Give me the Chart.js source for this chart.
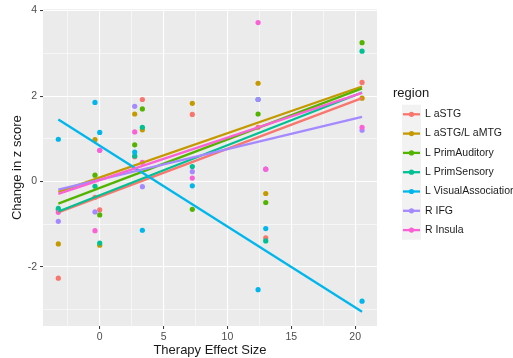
<!DOCTYPE html>
<html>
<head>
<meta charset="utf-8">
<script src="https://cdn.jsdelivr.net/npm/chart.js@4"></script>
<style>
  html, body { margin: 0; padding: 0; background: #fff; }
</style>
</head>
<body>
<canvas id="mycanvas" width="513" height="358"></canvas>
<script>
// therapy effect size of each subject (x), same order for every region
var effectSize = [-3.24, -0.37, 0, 2.74, 3.34, 7.25, 12.4, 13.0, 20.54];

var regionNames = ["L aSTG", "L aSTG/L aMTG", "L PrimAuditory", "L PrimSensory",
                   "L VisualAssociation", "R IFG", "R Insula"];
var regionColors = ["#F8766D", "#C49A00", "#53B400", "#00C094", "#00B6EB", "#A58AFF", "#FB61D7"];

// change in z score per region
var lASTG        = [-2.26, -0.37, -0.66, 0.58, 1.92, 1.57, 1.27, -1.32, 2.32];
var lASTGaMTG    = [-1.46, 0.98, -1.49, 1.58, 1.21, 1.83, 2.30, -0.28, 1.95];
var lPrimAud     = [-0.66, 0.15, -0.78, 0.86, 1.70, -0.65, 1.58, -0.49, 3.25];
var lPrimSens    = [-0.63, -0.11, -1.44, 0.60, 1.27, 0.35, 1.92, -1.39, 3.05];
var lVisualAssoc = [0.99, 1.85, 1.15, 0.69, -1.14, -0.10, -2.53, -1.10, -2.80];
var rIFG         = [-0.93, -0.71, 0.73, 1.76, -0.12, 0.23, 1.92, 0.29, 1.20];
var rInsula      = [-0.72, -1.15, 0.73, 1.16, 0.45, 0.08, 3.72, 0.29, 1.27];

var regionValues = [lASTG, lASTGaMTG, lPrimAud, lPrimSens, lVisualAssoc, rIFG, rInsula];

var xTicks = [-2.5, 0, 2.5, 5, 7.5, 10, 12.5, 15, 17.5, 20];
var yTicks = [-3, -2, -1, 0, 1, 2, 3, 4];
var xMajor = [0, 5, 10, 15, 20];
var yMajor = [-2, 0, 2, 4];

var FONT = "'Liberation Sans', Arial, Helvetica, sans-serif";

// least squares line over the range of the data (geom_smooth method = lm)
function fitLine(xs, ys) {
  var n = xs.length, mx = 0, my = 0;
  for (var i = 0; i < n; i++) { mx += xs[i]; my += ys[i]; }
  mx /= n; my /= n;
  var sxy = 0, sxx = 0;
  for (var i = 0; i < n; i++) {
    sxy += (xs[i] - mx) * (ys[i] - my);
    sxx += (xs[i] - mx) * (xs[i] - mx);
  }
  var b = sxy / sxx, a = my - b * mx;
  var x0 = Math.min.apply(null, xs), x1 = Math.max.apply(null, xs);
  return [{x: x0, y: a + b * x0}, {x: x1, y: a + b * x1}];
}

var datasets = [];
for (var i = 0; i < regionNames.length; i++) {
  var pts = [];
  for (var j = 0; j < effectSize.length; j++) {
    pts.push({x: effectSize[j], y: regionValues[i][j]});
  }
  datasets.push({
    label: regionNames[i],
    data: pts,
    backgroundColor: regionColors[i],
    borderColor: regionColors[i],
    pointRadius: 2.6,
    pointBorderWidth: 0,
    showLine: false,
    order: 30 - i
  });
}
for (var i = 0; i < regionNames.length; i++) {
  datasets.push({
    label: regionNames[i] + " fit",
    data: fitLine(effectSize, regionValues[i]),
    borderColor: regionColors[i],
    borderWidth: 2.3,
    pointRadius: 0,
    showLine: true,
    fill: false,
    order: 10 - i
  });
}

var panelBg = {
  id: "panelBg",
  beforeDraw: function(chart) {
    var a = chart.chartArea, c = chart.ctx;
    c.save();
    c.fillStyle = "#EBEBEB";
    c.fillRect(a.left, a.top, a.right - a.left, a.bottom - a.top);
    c.restore();
  }
};

var titlesAndLegend = {
  id: "titlesAndLegend",
  afterDraw: function(chart) {
    var a = chart.chartArea, c = chart.ctx;
    c.save();
    c.fillStyle = "#1a1a1a";
    c.font = "13px " + FONT;
    c.textAlign = "center";
    c.textBaseline = "middle";
    c.fillText("Therapy Effect Size", (a.left + a.right) / 2, 350);
    c.translate(17, (a.top + a.bottom) / 2);
    c.rotate(-Math.PI / 2);
    c.fillText("Change in z score", 0, 0);
    c.restore();

    // legend
    c.save();
    c.fillStyle = "#1a1a1a";
    c.font = "13px " + FONT;
    c.textAlign = "left";
    c.textBaseline = "middle";
    c.fillText("region", 393, 93);
    var step = 19.3, y0 = 114.3;
    c.fillStyle = "#F2F2F2";
    c.fillRect(402, y0 - step / 2, 19, step * regionNames.length);
    for (var i = 0; i < regionNames.length; i++) {
      var cy = y0 + step * i;
      c.strokeStyle = regionColors[i];
      c.lineWidth = 2.3;
      c.beginPath();
      c.moveTo(403, cy);
      c.lineTo(420, cy);
      c.stroke();
      c.fillStyle = regionColors[i];
      c.beginPath();
      c.arc(411.5, cy, 2.6, 0, Math.PI * 2);
      c.fill();
      c.fillStyle = "#1a1a1a";
      c.font = "10.5px " + FONT;
      c.fillText(regionNames[i], 425, cy);
    }
    c.restore();
  }
};

function gridOpts(major) {
  return {
    color: "#FFFFFF",
    lineWidth: function(ctx) {
      return ctx.tick && major.indexOf(ctx.tick.value) >= 0 ? 1.1 : 0.55;
    },
    tickColor: function(ctx) {
      return ctx.tick && major.indexOf(ctx.tick.value) >= 0 ? "#333333" : "rgba(0,0,0,0)";
    },
    tickLength: 3,
    tickWidth: 1
  };
}

var ctx = document.getElementById("mycanvas");

var scatterChart = new Chart(ctx, {
  type: "scatter",
  data: { datasets: datasets },
  plugins: [panelBg, titlesAndLegend],
  options: {
    responsive: false,
    animation: false,
    devicePixelRatio: 1,
    layout: { padding: { left: 0, right: 136, top: 9, bottom: 0 } },
    plugins: { legend: { display: false }, tooltip: { enabled: false } },
    scales: {
      x: {
        type: "linear",
        min: -4.44,
        max: 21.71,
        afterBuildTicks: function(s) { s.ticks = xTicks.map(function(v) { return {value: v}; }); },
        afterFit: function(s) { s.height = 32; },
        border: { display: false },
        grid: gridOpts(xMajor),
        ticks: {
          autoSkip: false,
          maxRotation: 0,
          padding: 2,
          color: "#4D4D4D",
          font: { size: 10.5, family: FONT },
          callback: function(v) { return xMajor.indexOf(v) >= 0 ? String(v) : ""; }
        }
      },
      y: {
        type: "linear",
        min: -3.38,
        max: 4.03,
        afterBuildTicks: function(s) { s.ticks = yTicks.map(function(v) { return {value: v}; }); },
        afterFit: function(s) { s.width = 43; },
        border: { display: false },
        grid: gridOpts(yMajor),
        ticks: {
          autoSkip: false,
          padding: 3,
          color: "#4D4D4D",
          font: { size: 10.5, family: FONT },
          callback: function(v) { return yMajor.indexOf(v) >= 0 ? String(v) : ""; }
        }
      }
    }
  }
});
</script>
</body>
</html>
